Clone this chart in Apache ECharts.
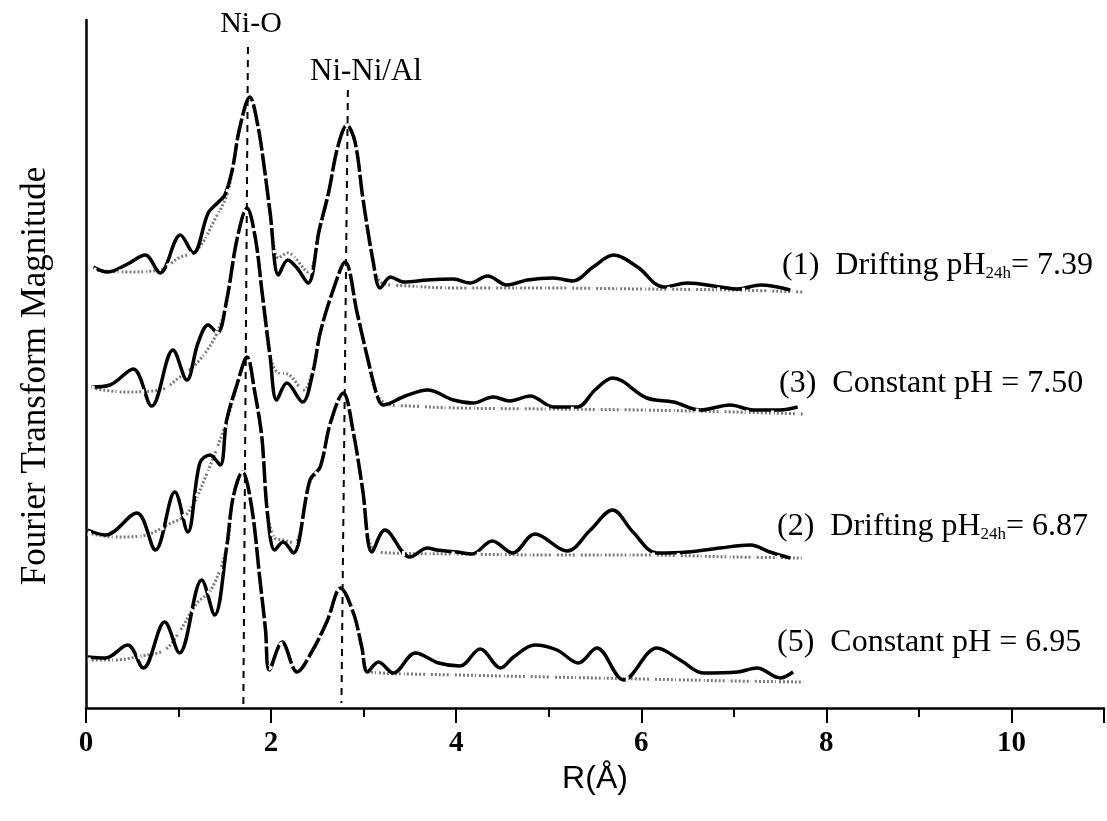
<!DOCTYPE html>
<html>
<head>
<meta charset="utf-8">
<script src="https://cdn.jsdelivr.net/npm/echarts@6/dist/echarts.min.js"></script>
<style>html,body{margin:0;padding:0;background:#fff}#c{width:1107px;height:821px}</style>
</head>
<body>
<div id="c"></div>
<script>
// ---- data (R in Å, magnitude in arbitrary stacked units) ----
const spectrumNames = ['(1)', '(3)', '(2)', '(5)'];
const labelTexts = [
  '(1)  Drifting pH{s|24h}= 7.39',
  '(3)  Constant pH = 7.50',
  '(2)  Drifting pH{s|24h}= 6.87',
  '(5)  Constant pH = 6.95'
];
const peakLabels = ['Ni-O', 'Ni-Ni/Al'];
const xTickLabels = ['0', '2', '4', '6', '8', '10'];
const yTitle = 'Fourier Transform Magnitude';

// spectrum (1) experimental
const r1 = [0.08,0.23,0.45,0.64,0.80,1.02,1.16,1.32,1.42,1.50,1.58,1.66,1.77,1.86,1.93,1.99,2.08,2.18,2.28,2.40,2.52,2.62,2.72,2.82,2.91,2.99,3.10,3.18,3.29,3.43,3.69,3.97,4.15,4.34,4.55,4.77,5.05,5.26,5.48,5.70,5.96,6.24,6.50,6.85,7.04,7.29,7.61];
const v1 = [441,436,444,453,435,473,455,495,505,513,538,580,611,581,538,495,433,448,440,425,478,515,561,583,565,511,448,420,431,426,428,429,425,432,423,428,430,427,441,453,441,421,425,421,419,423,418];
// spectrum (1) fit
const fr1 = [0.08,0.4,0.8,1.0,1.2,1.4,1.52,1.58,1.66,1.77,1.86,1.93,1.99,2.08,2.18,2.40,2.52,2.62,2.72,2.82,2.91,2.99,3.1,3.2,3.5,4.0,5.0,6.0,7.0,7.75];
const fv1 = [438,436,438,450,458,490,512,537,579,609,580,537,494,450,455,436,476,514,560,582,564,510,448,425,422,420,420,419,418,416];

// spectrum (3)
const r3 = [0.06,0.26,0.51,0.71,0.94,1.09,1.21,1.32,1.42,1.52,1.63,1.74,1.83,1.90,1.99,2.06,2.17,2.34,2.45,2.53,2.67,2.80,2.93,3.04,3.15,3.21,3.45,3.69,3.97,4.18,4.40,4.58,4.80,5.05,5.31,5.50,5.69,6.06,6.35,6.64,6.96,7.21,7.50,7.69];
const v3 = [321,323,339,302,358,328,365,383,375,408,468,500,470,418,351,308,325,306,335,375,418,446,395,351,311,303,312,318,308,305,311,307,312,301,301,318,330,310,306,298,303,298,298,301];
const fr3 = [0.06,0.4,0.8,1.0,1.2,1.4,1.52,1.63,1.74,1.83,1.90,1.99,2.08,2.18,2.35,2.45,2.53,2.67,2.80,2.93,3.04,3.15,3.3,3.5,4.0,5.0,6.0,7.0,7.75];
const fv3 = [320,316,318,330,345,372,406,467,499,469,417,352,335,334,318,338,374,417,445,394,350,312,303,302,300,299,298,296,294];

// spectrum (2)
const r2 = [0.02,0.21,0.55,0.75,0.96,1.10,1.23,1.34,1.45,1.52,1.63,1.74,1.82,1.90,1.96,2.04,2.13,2.24,2.42,2.53,2.64,2.78,2.89,2.99,3.09,3.23,3.50,3.69,3.79,4.01,4.17,4.39,4.61,4.85,5.20,5.45,5.69,5.91,6.17,6.50,6.85,7.18,7.39,7.61];
const v2 = [178,173,195,158,216,176,245,253,243,288,323,351,318,271,195,158,166,155,228,241,285,315,275,218,156,178,151,160,158,156,154,167,155,174,157,178,198,176,155,156,160,163,156,150];
const fr2 = [0.02,0.3,0.6,0.9,1.1,1.3,1.52,1.63,1.74,1.82,1.90,1.96,2.04,2.13,2.25,2.42,2.53,2.64,2.78,2.89,2.99,3.09,3.3,4.0,5.0,6.0,7.0,7.75];
const fv2 = [175,171,172,184,195,233,287,322,350,317,270,196,170,168,165,226,240,284,314,274,217,160,155,154,153,153,151,150];

// spectrum (5)
const r5 = [0.02,0.21,0.45,0.62,0.85,1.01,1.25,1.39,1.52,1.59,1.69,1.79,1.88,1.94,1.98,2.12,2.28,2.45,2.61,2.75,2.89,2.98,3.04,3.16,3.32,3.56,3.81,4.04,4.26,4.48,4.62,4.85,5.09,5.32,5.52,5.81,6.17,6.42,6.67,7.04,7.25,7.50,7.64];
const v5 = [51,50,63,40,86,55,128,93,161,211,236,201,128,78,38,66,36,58,88,120,95,61,36,46,35,55,45,42,59,40,51,63,58,45,60,28,60,48,35,36,40,30,36];
const fr5 = [0.02,0.3,0.6,0.85,1.0,1.2,1.35,1.52,1.59,1.69,1.79,1.88,1.94,1.98,2.12,2.28,2.45,2.61,2.75,2.89,2.98,3.04,3.2,3.5,4.0,5.0,6.0,7.0,7.75];
const fv5 = [48,48,52,58,75,105,118,160,210,235,200,127,78,40,64,37,57,87,119,94,60,38,35,34,33,31,29,27,26];

// vertical guide lines at the two shells (slightly slanted in the scan)
const niOLineR = [1.75, 1.70];
const niOLineV = [661, 3];
const niNiLineR = [2.83, 2.76];
const niNiLineV = [618, 5];

// ---- build ----
const zip = (a, b) => a.map((x, i) => [x, b[i]]);
const expSets = [[r1, v1], [r3, v3], [r2, v2], [r5, v5]];
const fitSets = [[fr1, fv1], [fr3, fv3], [fr2, fv2], [fr5, fv5]];

const series = [];
fitSets.forEach((s, i) => {
  series.push({
    name: spectrumNames[i] + ' fit', type: 'line', data: zip(s[0], s[1]),
    smooth: 0.35, showSymbol: false, z: 2, silent: true,
    lineStyle: { color: '#7a7a7a', width: 3, type: [2, 2] }
  });
});
expSets.forEach((s, i) => {
  series.push({
    name: spectrumNames[i], type: 'line', data: zip(s[0], s[1]),
    smooth: 0.35, showSymbol: false, z: 3, silent: true,
    lineStyle: { color: '#000', width: 3.5 }
  });
});
// fit drawn over the data as short white breaks: where both coincide the curve looks dashed
fitSets.forEach((s, i) => {
  series.push({
    name: spectrumNames[i] + ' fit overlay', type: 'line', data: zip(s[0], s[1]),
    smooth: 0.35, showSymbol: false, z: 4, silent: true,
    lineStyle: { color: '#fff', width: 5, type: [3, 22] }
  });
});
[[niOLineR, niOLineV], [niNiLineR, niNiLineV]].forEach((s, i) => {
  series.push({
    name: peakLabels[i], type: 'line', data: zip(s[0], s[1]),
    showSymbol: false, z: 5, silent: true,
    lineStyle: { color: '#000', width: 2, type: [7, 6] }
  });
});

const serif = '"Liberation Serif", "DejaVu Serif", serif';
const chart = echarts.init(document.getElementById('c'));
const option = {
  backgroundColor: '#fff',
  animation: false,
  grid: { left: 86, right: 3, top: 20, bottom: 113 },
  xAxis: [{
    type: 'value', min: 0, max: 11, interval: 1,
    axisLine: { lineStyle: { color: '#000', width: 2.5 } },
    axisTick: { length: 9, lineStyle: { color: '#000', width: 2 } },
    axisLabel: {
      margin: 21, color: '#000', fontFamily: serif, fontSize: 29, fontWeight: 'bold',
      formatter: v => { const s = String(v); return xTickLabels.indexOf(s) >= 0 ? s : ''; }
    },
    splitLine: { show: false },
    name: 'R(Å)', nameLocation: 'middle', nameGap: 48,
    nameTextStyle: { color: '#000', fontFamily: '"Liberation Sans", Arial, sans-serif', fontSize: 32 }
  }, {
    type: 'value', min: 0, max: 11, interval: 2, position: 'bottom',
    axisLine: { show: false },
    axisTick: { length: 15, lineStyle: { color: '#000', width: 2 } },
    axisLabel: { show: false }, splitLine: { show: false }
  }],
  yAxis: {
    type: 'value', min: 0, max: 688,
    axisLine: { show: true, lineStyle: { color: '#000', width: 2.5 } },
    axisTick: { show: false }, axisLabel: { show: false }, splitLine: { show: false }
  },
  series: series,
  graphic: [
    { type: 'text', x: 36, y: 376, rotation: Math.PI / 2,
      style: { text: yTitle, font: '35px ' + serif, fill: '#000', align: 'center', verticalAlign: 'middle' } },
    { type: 'text', x: 251, y: 24, style: { text: peakLabels[0], font: '30px ' + serif, fill: '#000', align: 'center', verticalAlign: 'middle' } },
    { type: 'text', x: 366, y: 72, style: { text: peakLabels[1], font: '31px ' + serif, fill: '#000', align: 'center', verticalAlign: 'middle' } }
  ].concat(labelTexts.map((t, i) => ({
    type: 'text', x: [782, 779, 777, 777][i], y: [266, 384, 527, 643][i],
    style: {
      text: t, font: '32px ' + serif, fill: '#000', verticalAlign: 'middle',
      rich: { s: { fontSize: 17, fontFamily: serif, fill: '#000', padding: [15, 0, 0, 0] } }
    }
  })))
};
chart.setOption(option);
</script>
</body>
</html>
